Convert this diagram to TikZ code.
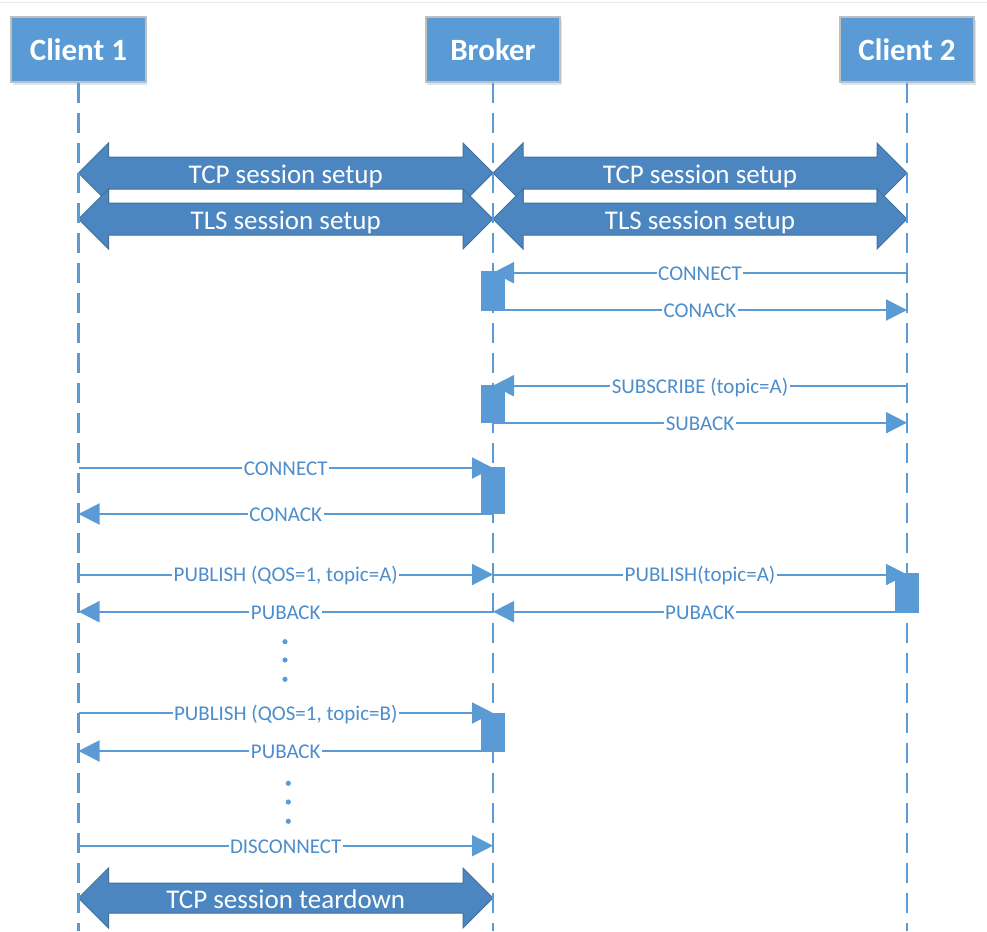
\documentclass[tikz,border=0pt]{standalone}
\usepackage{fontspec}
\setmainfont{Carlito}
\usepackage{tikz}
\usetikzlibrary{arrows.meta}
\usetikzlibrary{calc}
\usetikzlibrary{shadows}
\definecolor{lifeblue}{RGB}{91,155,213}
\definecolor{labblue}{RGB}{76,141,203}
\definecolor{blkfill}{RGB}{76,134,192}
\definecolor{blkline}{RGB}{65,113,156}
\definecolor{boxline}{RGB}{191,191,191}
\tikzset{actor/.style={fill=lifeblue,draw=boxline,line width=2pt,minimum width=134.5pt,minimum height=65.5pt,inner sep=0pt,text=white,font=\fontsize{31}{31}\selectfont\bfseries,drop shadow={fill=lifeblue,opacity=0.25,shadow xshift=1.5pt,shadow yshift=-3pt}}}
\tikzset{life/.style={lifeblue,line width=2.2pt,dash pattern=on 20pt off 10pt}}
\tikzset{msg/.style={lifeblue,line width=2pt,-{Triangle[length=21pt,width=21pt]}}}
\tikzset{l/.style={fill=white,text=labblue,inner xsep=1.5pt,inner ysep=0pt,text height=13.5pt,text depth=0pt,yshift=-0.6pt,font=\fontsize{21}{21}\selectfont}}
\tikzset{blk/.style={fill=blkfill,draw=blkline,line width=1pt,line join=miter}}
\tikzset{b/.style={text=white,inner sep=0pt,text height=17.4pt,text depth=0pt,yshift=-2pt,font=\fontsize{27}{27}\selectfont}}
\tikzset{act/.style={fill=lifeblue,minimum width=24.3pt,inner sep=0pt}}
\begin{document}
\begin{tikzpicture}[x=1pt,y=-1pt]
  \useasboundingbox (0,0) rectangle (987,931);
  \draw[gray!18,line width=1.2pt] (0,2.3) -- (987,2.3);
  \node[actor] (C1) at (78.5,49.4) {Client 1};
  \node[actor] (Br) at (493,49.4) {Broker};
  \node[actor] (C2) at (907,49.4) {Client 2};
  \coordinate (C1e) at (C1 |- 0,931);
  \coordinate (Bre) at (Br |- 0,931);
  \coordinate (C2e) at (C2 |- 0,931);
  \coordinate (tcp) at (0,173);
  \coordinate (tls) at (0,219);
  \coordinate (fin) at (0,898);
  \coordinate (tcpA) at (C1 |- tcp);
  \coordinate (tcpB) at (Br |- tcp);
  \coordinate (tcpC) at (C2 |- tcp);
  \coordinate (tlsA) at (C1 |- tls);
  \coordinate (tlsB) at (Br |- tls);
  \coordinate (tlsC) at (C2 |- tls);
  \coordinate (finA) at (C1 |- fin);
  \coordinate (finB) at (Br |- fin);
  \filldraw[blk] (tcpA) -- ++(30,-30) -- ++(0,14) -- ($(tcpB)+(-30,-16)$) -- ++(0,-14) -- (tcpB) -- ++(-30,30) -- ++(0,-14) -- ($(tcpA)+(30,16)$) -- ++(0,14) -- cycle;
  \filldraw[blk] (tcpB) -- ++(30,-30) -- ++(0,14) -- ($(tcpC)+(-30,-16)$) -- ++(0,-14) -- (tcpC) -- ++(-30,30) -- ++(0,-14) -- ($(tcpB)+(30,16)$) -- ++(0,14) -- cycle;
  \filldraw[blk] (tlsA) -- ++(30,-30) -- ++(0,14) -- ($(tlsB)+(-30,-16)$) -- ++(0,-14) -- (tlsB) -- ++(-30,30) -- ++(0,-14) -- ($(tlsA)+(30,16)$) -- ++(0,14) -- cycle;
  \filldraw[blk] (tlsB) -- ++(30,-30) -- ++(0,14) -- ($(tlsC)+(-30,-16)$) -- ++(0,-14) -- (tlsC) -- ++(-30,30) -- ++(0,-14) -- ($(tlsB)+(30,16)$) -- ++(0,14) -- cycle;
  \filldraw[blk] (finA) -- ++(30,-30) -- ++(0,15) -- ($(finB)+(-30,-15)$) -- ++(0,-15) -- (finB) -- ++(-30,30) -- ++(0,-15) -- ($(finA)+(30,15)$) -- ++(0,15) -- cycle;
  \node[b] (t1) at ($(tcpA)!0.5!(tcpB)$) {TCP session setup};
  \node[b] (t2) at ($(tcpB)!0.5!(tcpC)$) {TCP session setup};
  \node[b] (t3) at ($(tlsA)!0.5!(tlsB)$) {TLS session setup};
  \node[b] (t4) at ($(tlsB)!0.5!(tlsC)$) {TLS session setup};
  \node[b] (t5) at ($(finA)!0.5!(finB)$) {TCP session teardown};
  \draw[life] (C1) -- (C1e);
  \draw[life] (Br) -- (Bre);
  \draw[life] (C2) -- (C2e);
  \coordinate (y1) at (0,272.7);
  \coordinate (y2) at (0,310);
  \coordinate (y3) at (0,385.7);
  \coordinate (y4) at (0,422.7);
  \coordinate (y5) at (0,468);
  \coordinate (y6) at (0,514);
  \coordinate (y7) at (0,574.5);
  \coordinate (y8) at (0,611.7);
  \coordinate (y9) at (0,713);
  \coordinate (y10) at (0,751);
  \coordinate (y11) at (0,845.7);
  \draw[msg] (C2 |- y1) -- node[l] {CONNECT} (Br |- y1);
  \draw[msg] (Br |- y2) -- node[l] {CONACK} (C2 |- y2);
  \draw[msg] (C2 |- y3) -- node[l] {SUBSCRIBE (topic=A)} (Br |- y3);
  \draw[msg] (Br |- y4) -- node[l] {SUBACK} (C2 |- y4);
  \draw[msg] (C1 |- y5) -- node[l] {CONNECT} (Br |- y5);
  \draw[msg] (Br |- y6) -- node[l] {CONACK} (C1 |- y6);
  \draw[msg] (C1 |- y7) -- node[l] {PUBLISH (QOS=1, topic=A)} (Br |- y7);
  \draw[msg] (Br |- y7) -- node[l] {PUBLISH(topic=A)} (C2 |- y7);
  \draw[msg] (Br |- y8) -- node[l] {PUBACK} (C1 |- y8);
  \draw[msg] (C2 |- y8) -- node[l] {PUBACK} (Br |- y8);
  \draw[msg] (C1 |- y9) -- node[l] {PUBLISH (QOS=1, topic=B)} (Br |- y9);
  \draw[msg] (Br |- y10) -- node[l] {PUBACK} (C1 |- y10);
  \draw[msg] (C1 |- y11) -- node[l] {DISCONNECT} (Br |- y11);
  \node[act,minimum height=40.3pt] (a1) at (Br |- 0,290.9) {};
  \node[act,minimum height=38pt] (a2) at (Br |- 0,404) {};
  \node[act,minimum height=47pt] (a3) at (Br |- 0,490.5) {};
  \node[act,minimum height=39.4pt] (a4) at (C2 |- 0,593) {};
  \node[act,minimum height=39.3pt] (a5) at (Br |- 0,732.3) {};
  \fill[lifeblue] (285,641.7) circle (2.6) (285,660) circle (2.6) (285,679.3) circle (2.6);
  \fill[lifeblue] (288.3,783.3) circle (2.6) (288.3,802) circle (2.6) (288.3,821.3) circle (2.6);
\end{tikzpicture}
\end{document}
